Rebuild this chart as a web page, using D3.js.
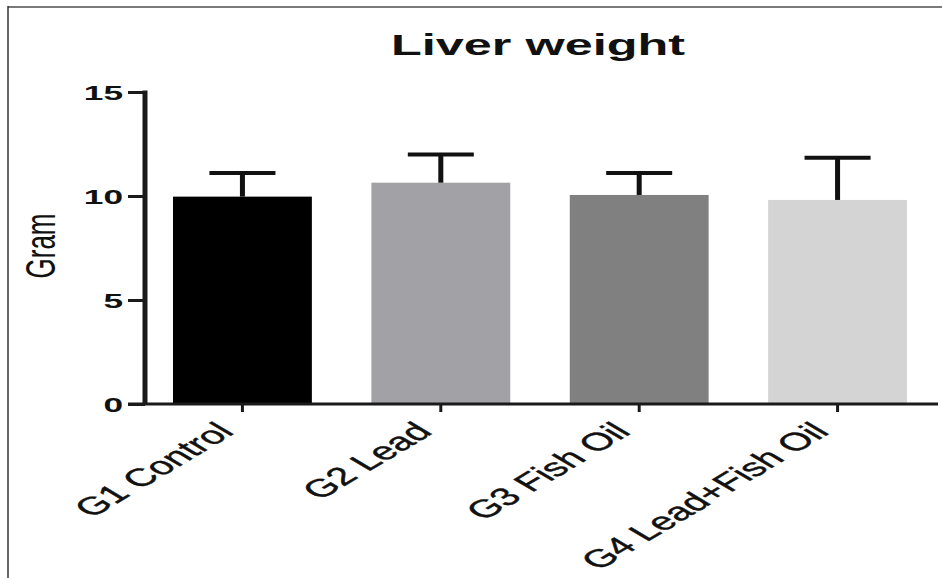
<!DOCTYPE html>
<html><head><meta charset="utf-8">
<script src="https://cdn.jsdelivr.net/npm/d3@7"></script>
<style>body{margin:0;background:#fff}svg{display:block}</style>
</head><body>
<svg id="c" width="942" height="578"></svg>
<script>
const categories = ["G1 Control", "G2 Lead", "G3 Fish Oil", "G4 Lead+Fish Oil"];
const means = [9.97, 10.64, 10.05, 9.81];
const sds = [1.14, 1.36, 1.06, 2.03];
const colors = ["#000000", "#a2a2a6", "#808080", "#d4d4d4"];
const yTicks = [0, 5, 10, 15];
const title = "Liver weight";
const yTitle = "Gram";

const svg = d3.select("#c");
const SX = 1.68;
const font = "'Liberation Sans', Arial, sans-serif";

// frame
svg.append("line").attr("x1", 8).attr("x2", 942).attr("y1", 7).attr("y2", 7)
  .attr("stroke", "#7a7a7a").attr("stroke-width", 2);
svg.append("line").attr("x1", 8).attr("x2", 8).attr("y1", 6).attr("y2", 578)
  .attr("stroke", "#333").attr("stroke-width", 1.5);

const y = d3.scaleLinear().domain([0, 15]).range([404, 92]);
const x = d3.scaleBand().domain(categories).range([173, 907]).paddingInner(0.3).paddingOuter(0);

// bars
svg.selectAll("rect.bar").data(categories).join("rect")
  .attr("class", "bar")
  .attr("x", d => x(d))
  .attr("width", x.bandwidth())
  .attr("y", (d, i) => y(means[i]))
  .attr("height", (d, i) => y(0) - y(means[i]))
  .attr("fill", (d, i) => colors[i]);

// error bars
const capW = 66;
categories.forEach((c, i) => {
  const cx = x(c) + x.bandwidth() / 2;
  svg.append("line").attr("x1", cx).attr("x2", cx)
    .attr("y1", y(means[i])).attr("y2", y(means[i] + sds[i]))
    .attr("stroke", "#111").attr("stroke-width", 5);
  svg.append("line").attr("x1", cx - capW / 2).attr("x2", cx + capW / 2)
    .attr("y1", y(means[i] + sds[i])).attr("y2", y(means[i] + sds[i]))
    .attr("stroke", "#111").attr("stroke-width", 4);
});

// y axis
const yAxis = d3.axisLeft(y).tickValues(yTicks).tickSize(17).tickFormat(d3.format("d"));
const gy = svg.append("g").attr("transform", "translate(145,0)").call(yAxis);
gy.select(".domain").remove();
gy.selectAll(".tick line").attr("stroke", "#1a1a1a").attr("stroke-width", 3);
gy.selectAll(".tick text")
  .attr("x", null).attr("dy", null)
  .attr("transform", `translate(-22,7.5) scale(${SX},1)`)
  .attr("text-anchor", "end")
  .style("font-family", font).style("font-weight", "bold")
  .style("font-size", "21px").attr("fill", "#111");
svg.append("line").attr("x1", 145).attr("x2", 145).attr("y1", y(15) - 1.5).attr("y2", y(0))
  .attr("stroke", "#1a1a1a").attr("stroke-width", 5);

// x axis
svg.append("line").attr("x1", 128).attr("x2", 938).attr("y1", y(0)).attr("y2", y(0))
  .attr("stroke", "#1a1a1a").attr("stroke-width", 3);
const xAxis = d3.axisBottom(x).tickSize(8).tickSizeOuter(0);
const gx = svg.append("g").attr("transform", `translate(0,${y(0)})`).call(xAxis);
gx.select(".domain").remove();
gx.selectAll(".tick line").attr("stroke", "#1a1a1a").attr("stroke-width", 3);
gx.selectAll(".tick text")
  .attr("y", null).attr("dy", null)
  .attr("transform", `translate(-7,29) scale(${SX},1) rotate(-45)`)
  .attr("text-anchor", "end")
  .style("font-family", font).style("font-size", "25px")
  .attr("stroke", "#111").attr("stroke-width", 0.4)
  .attr("fill", "#111");

// title
svg.append("text").text(title)
  .attr("transform", `translate(538,55) scale(${SX},1)`)
  .attr("text-anchor", "middle")
  .style("font-family", font).style("font-weight", "bold").style("font-size", "30px").attr("fill", "#111");

// y title
svg.append("text").text(yTitle)
  .attr("transform", `translate(55,246) scale(1.6,1) rotate(-90)`)
  .attr("text-anchor", "middle")
  .style("font-family", font).style("font-size", "26px").attr("fill", "#111");
</script>
</body></html>
